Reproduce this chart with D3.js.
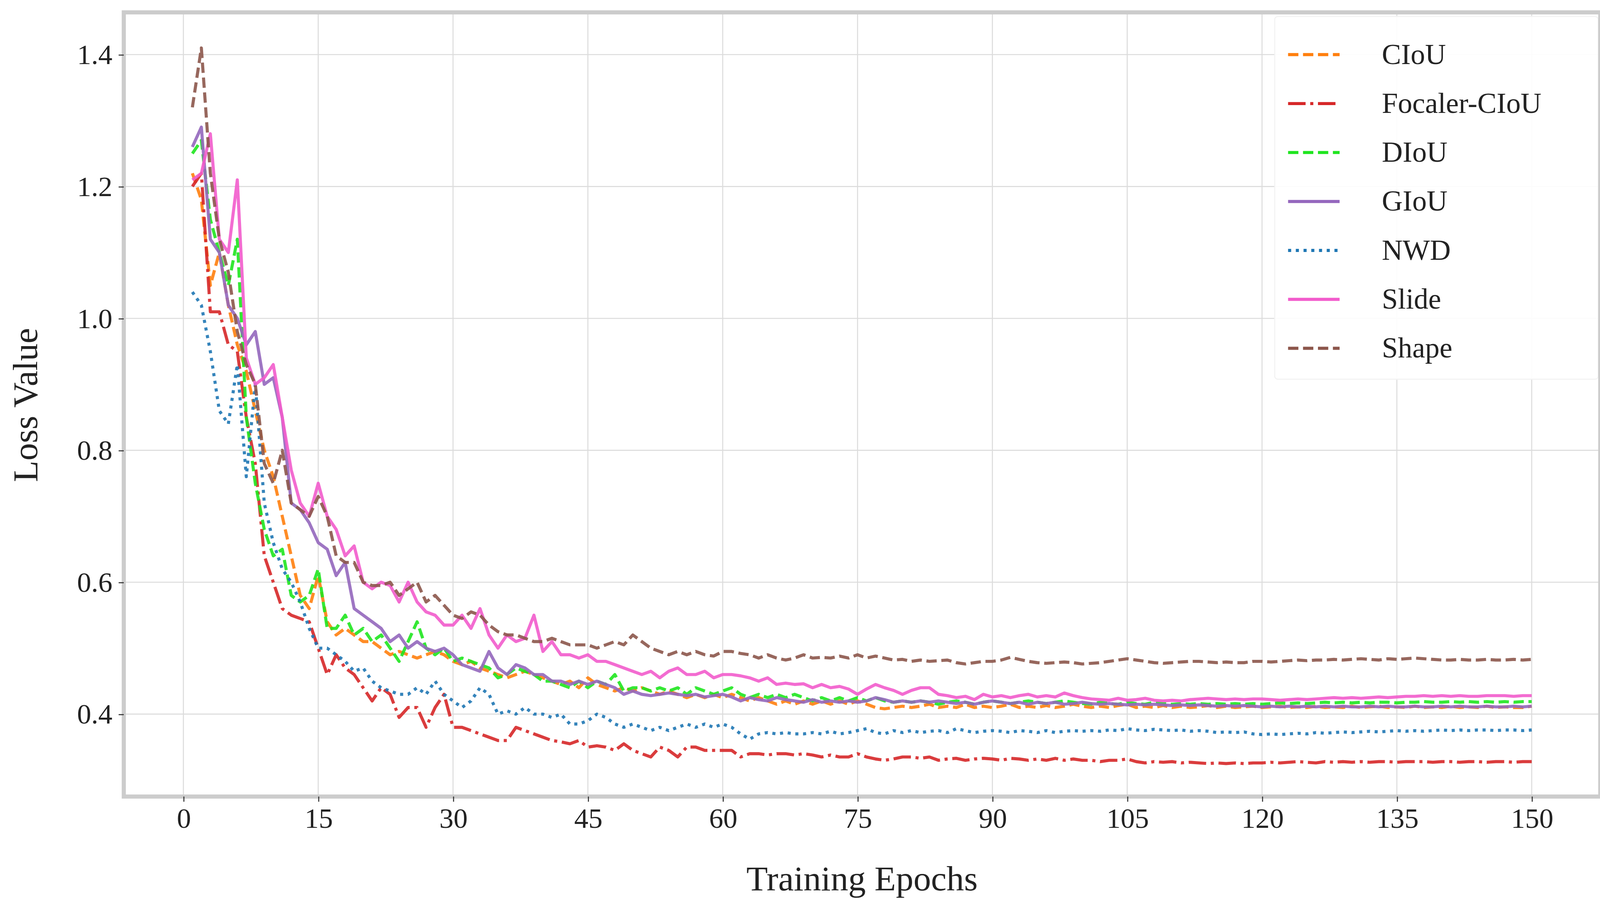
<!DOCTYPE html>
<html><head><meta charset="utf-8">
<script src="https://cdn.jsdelivr.net/npm/d3@7"></script>
<style>body{margin:0;background:#fff}</style></head>
<body><svg id="c"></svg>
<script>
const CIoU=[1.22,1.18,1.05,1.10,1.02,0.96,0.92,0.86,0.80,0.76,0.70,0.64,0.58,0.56,0.61,0.54,0.52,0.53,0.52,0.51,0.51,0.50,0.49,0.495,0.49,0.485,0.49,0.495,0.49,0.48,0.475,0.48,0.47,0.465,0.46,0.455,0.46,0.465,0.46,0.455,0.45,0.445,0.45,0.44,0.455,0.445,0.44,0.435,0.44,0.435,0.44,0.435,0.43,0.435,0.43,0.425,0.43,0.425,0.43,0.425,0.43,0.425,0.42,0.425,0.42,0.415,0.42,0.415,0.42,0.415,0.42,0.415,0.42,0.415,0.42,0.415,0.41,0.408,0.41,0.412,0.41,0.412,0.415,0.41,0.412,0.41,0.415,0.41,0.412,0.41,0.412,0.415,0.41,0.412,0.41,0.413,0.41,0.412,0.415,0.412,0.41,0.412,0.41,0.413,0.415,0.41,0.412,0.41,0.413,0.41,0.412,0.41,0.411,0.413,0.41,0.412,0.41,0.411,0.412,0.41,0.411,0.412,0.41,0.411,0.41,0.412,0.41,0.411,0.41,0.412,0.41,0.411,0.412,0.41,0.411,0.41,0.412,0.41,0.411,0.41,0.412,0.41,0.411,0.41,0.412,0.41,0.411,0.41,0.41,0.412];
const Focaler=[1.20,1.22,1.01,1.01,0.96,0.95,0.85,0.78,0.64,0.60,0.56,0.55,0.545,0.54,0.50,0.46,0.49,0.47,0.46,0.44,0.42,0.44,0.43,0.395,0.41,0.41,0.38,0.41,0.43,0.38,0.38,0.375,0.37,0.365,0.36,0.36,0.38,0.375,0.37,0.365,0.36,0.358,0.355,0.36,0.35,0.352,0.35,0.345,0.355,0.345,0.34,0.335,0.35,0.345,0.335,0.35,0.35,0.345,0.345,0.345,0.345,0.335,0.34,0.34,0.338,0.34,0.34,0.338,0.34,0.338,0.335,0.338,0.335,0.335,0.34,0.335,0.332,0.33,0.332,0.335,0.335,0.333,0.335,0.33,0.332,0.333,0.33,0.332,0.333,0.332,0.33,0.333,0.332,0.33,0.332,0.33,0.333,0.33,0.332,0.33,0.33,0.328,0.33,0.33,0.332,0.328,0.326,0.328,0.327,0.328,0.326,0.327,0.326,0.325,0.326,0.325,0.326,0.325,0.326,0.326,0.327,0.326,0.327,0.328,0.327,0.326,0.328,0.327,0.328,0.327,0.328,0.327,0.328,0.328,0.327,0.328,0.328,0.328,0.327,0.328,0.328,0.327,0.328,0.328,0.327,0.328,0.328,0.327,0.328,0.328];
const DIoU=[1.25,1.27,1.15,1.10,1.05,1.12,0.85,0.75,0.68,0.64,0.65,0.58,0.57,0.58,0.62,0.53,0.53,0.55,0.52,0.53,0.51,0.52,0.50,0.48,0.51,0.54,0.50,0.49,0.50,0.48,0.485,0.48,0.475,0.47,0.455,0.46,0.47,0.465,0.46,0.45,0.45,0.445,0.44,0.45,0.44,0.45,0.445,0.46,0.435,0.44,0.44,0.435,0.44,0.435,0.44,0.43,0.44,0.435,0.43,0.435,0.44,0.43,0.425,0.43,0.425,0.43,0.425,0.43,0.425,0.42,0.425,0.42,0.425,0.42,0.425,0.42,0.425,0.42,0.418,0.42,0.418,0.42,0.418,0.415,0.418,0.42,0.418,0.415,0.418,0.42,0.418,0.416,0.418,0.42,0.418,0.416,0.418,0.42,0.418,0.416,0.415,0.418,0.416,0.415,0.418,0.416,0.415,0.418,0.416,0.415,0.416,0.415,0.416,0.415,0.416,0.415,0.416,0.415,0.416,0.415,0.416,0.417,0.416,0.417,0.416,0.417,0.418,0.417,0.418,0.417,0.418,0.417,0.418,0.418,0.417,0.418,0.418,0.419,0.418,0.418,0.419,0.418,0.419,0.418,0.419,0.418,0.419,0.418,0.419,0.419];
const GIoU=[1.26,1.29,1.12,1.10,1.02,1.00,0.96,0.98,0.90,0.91,0.85,0.72,0.71,0.69,0.66,0.65,0.61,0.63,0.56,0.55,0.54,0.53,0.51,0.52,0.50,0.51,0.50,0.495,0.50,0.49,0.475,0.47,0.465,0.495,0.47,0.46,0.475,0.47,0.46,0.46,0.45,0.45,0.445,0.45,0.445,0.45,0.445,0.44,0.43,0.435,0.43,0.428,0.43,0.432,0.43,0.428,0.43,0.426,0.428,0.43,0.426,0.42,0.425,0.422,0.42,0.425,0.422,0.42,0.418,0.422,0.418,0.42,0.418,0.42,0.418,0.42,0.425,0.422,0.418,0.42,0.418,0.42,0.418,0.42,0.418,0.416,0.418,0.415,0.418,0.42,0.418,0.416,0.418,0.415,0.418,0.416,0.418,0.415,0.416,0.418,0.416,0.415,0.416,0.415,0.414,0.415,0.414,0.415,0.414,0.413,0.414,0.413,0.414,0.413,0.412,0.413,0.412,0.413,0.412,0.411,0.412,0.411,0.412,0.411,0.412,0.411,0.412,0.411,0.412,0.411,0.411,0.412,0.411,0.412,0.411,0.411,0.412,0.411,0.411,0.412,0.411,0.412,0.411,0.411,0.412,0.411,0.411,0.412,0.411,0.412];
const NWD=[1.04,1.02,0.95,0.86,0.84,0.93,0.76,0.90,0.72,0.66,0.62,0.60,0.57,0.53,0.50,0.50,0.49,0.48,0.465,0.47,0.45,0.44,0.435,0.43,0.43,0.44,0.43,0.45,0.43,0.42,0.41,0.42,0.44,0.43,0.40,0.405,0.40,0.41,0.40,0.40,0.395,0.40,0.385,0.385,0.39,0.40,0.395,0.385,0.38,0.385,0.38,0.375,0.38,0.375,0.38,0.385,0.38,0.385,0.38,0.385,0.38,0.37,0.362,0.37,0.372,0.37,0.372,0.37,0.37,0.372,0.37,0.374,0.37,0.372,0.375,0.378,0.372,0.37,0.375,0.372,0.375,0.372,0.374,0.375,0.372,0.378,0.375,0.372,0.374,0.375,0.374,0.372,0.375,0.374,0.372,0.375,0.372,0.374,0.375,0.374,0.375,0.374,0.376,0.375,0.378,0.376,0.375,0.377,0.376,0.375,0.376,0.374,0.375,0.374,0.372,0.373,0.372,0.373,0.37,0.369,0.37,0.369,0.37,0.371,0.37,0.372,0.371,0.372,0.373,0.372,0.373,0.374,0.373,0.374,0.375,0.374,0.375,0.374,0.375,0.376,0.375,0.376,0.375,0.376,0.376,0.375,0.376,0.376,0.375,0.376];
const Slide=[1.21,1.22,1.28,1.12,1.10,1.21,0.94,0.90,0.91,0.93,0.85,0.77,0.72,0.70,0.75,0.70,0.68,0.64,0.655,0.60,0.59,0.60,0.595,0.57,0.60,0.57,0.555,0.55,0.535,0.535,0.55,0.53,0.56,0.52,0.50,0.52,0.51,0.515,0.55,0.495,0.51,0.49,0.49,0.485,0.49,0.48,0.48,0.475,0.47,0.465,0.46,0.465,0.455,0.465,0.47,0.46,0.46,0.465,0.455,0.46,0.46,0.458,0.455,0.45,0.455,0.445,0.447,0.445,0.446,0.44,0.445,0.44,0.442,0.438,0.43,0.438,0.445,0.44,0.436,0.43,0.436,0.44,0.44,0.43,0.428,0.425,0.427,0.422,0.43,0.426,0.428,0.425,0.428,0.43,0.426,0.428,0.426,0.432,0.428,0.425,0.423,0.422,0.421,0.424,0.421,0.422,0.424,0.421,0.42,0.421,0.42,0.422,0.423,0.424,0.423,0.422,0.423,0.422,0.423,0.423,0.422,0.421,0.422,0.423,0.422,0.423,0.424,0.425,0.424,0.425,0.424,0.425,0.426,0.425,0.426,0.427,0.427,0.428,0.427,0.428,0.427,0.428,0.427,0.427,0.428,0.428,0.428,0.427,0.428,0.428];
const Shape=[1.32,1.41,1.22,1.12,1.07,0.98,0.93,0.90,0.78,0.75,0.80,0.72,0.71,0.70,0.73,0.70,0.64,0.63,0.63,0.60,0.595,0.595,0.60,0.58,0.59,0.60,0.57,0.58,0.565,0.55,0.545,0.555,0.55,0.535,0.525,0.52,0.52,0.515,0.51,0.51,0.515,0.51,0.505,0.505,0.505,0.50,0.505,0.51,0.505,0.52,0.51,0.50,0.495,0.49,0.495,0.49,0.495,0.49,0.488,0.495,0.495,0.492,0.49,0.485,0.49,0.485,0.482,0.485,0.49,0.485,0.486,0.485,0.488,0.485,0.49,0.485,0.488,0.485,0.482,0.483,0.48,0.482,0.48,0.481,0.482,0.478,0.476,0.478,0.48,0.48,0.482,0.486,0.483,0.48,0.478,0.477,0.478,0.479,0.478,0.476,0.477,0.478,0.48,0.482,0.484,0.482,0.48,0.478,0.477,0.478,0.479,0.48,0.48,0.479,0.478,0.479,0.478,0.478,0.48,0.48,0.479,0.48,0.481,0.482,0.481,0.482,0.482,0.483,0.482,0.483,0.484,0.483,0.482,0.484,0.483,0.484,0.485,0.484,0.483,0.482,0.482,0.483,0.482,0.482,0.483,0.482,0.482,0.483,0.482,0.483];
const seriesNames=["CIoU","Focaler-CIoU","DIoU","GIoU","NWD","Slide","Shape"];
const seriesData=[CIoU,Focaler,DIoU,GIoU,NWD,Slide,Shape];
const xTicks=[0,15,30,45,60,75,90,105,120,135,150];
const yTicks=[0.4,0.6,0.8,1.0,1.2,1.4];

const colors=["#ff7f0e","#d62728","#1fe51f","#9467bd","#1f77b4","#f25ccc","#8c564b"];
const dashes=["10,4.5","17,4.5,3,4.5","10,4.5",null,"3,4.5",null,"10,4.5"];

const W=1567,H=886;
const svg=d3.select("#c").attr("width",4134).attr("height",2337).attr("viewBox",`0 0 ${W} ${H}`);
const L=120,R=1553,T=12,B=773;
const x=d3.scaleLinear().domain([-6.63,157.63]).range([L,R]);
const y=d3.scaleLinear().domain([0.275,1.464]).range([B,T]);
const font="'Liberation Serif','Times New Roman',serif";

const g=svg.append("g");
g.selectAll(".gx").data(xTicks).join("line").attr("x1",d=>x(d)).attr("x2",d=>x(d)).attr("y1",T).attr("y2",B).attr("stroke","#dcdcdc").attr("stroke-width",1);
g.selectAll(".gy").data(yTicks).join("line").attr("y1",d=>y(d)).attr("y2",d=>y(d)).attr("x1",L).attr("x2",R).attr("stroke","#dcdcdc").attr("stroke-width",1);

const line=d3.line().x((d,i)=>x(i+1)).y(d=>y(d));
seriesData.forEach((s,k)=>{
  svg.append("path").datum(s).attr("d",line).attr("fill","none").attr("stroke",colors[k]).attr("stroke-opacity",0.9)
   .attr("stroke-width",3).attr("stroke-dasharray",dashes[k]).attr("stroke-linejoin","round");
});

// legend
const lg=svg.append("g");
lg.append("rect").attr("x",1237).attr("y",16).attr("width",314).attr("height",352).attr("fill","#fff").attr("fill-opacity",0.9).attr("stroke","#f2f2f2").attr("rx",3);
seriesNames.forEach((n,k)=>{
  const yy=53+k*47.5;
  lg.append("line").attr("x1",1250).attr("x2",1300).attr("y1",yy).attr("y2",yy).attr("stroke",colors[k]).attr("stroke-width",3).attr("stroke-dasharray",dashes[k]);
  lg.append("text").attr("x",1341).attr("y",yy+9).attr("font-family",font).attr("font-size",28).attr("fill","#222").text(n);
});

svg.append("rect").attr("x",L).attr("y",T).attr("width",R-L).attr("height",B-T).attr("fill","none").attr("stroke","#cccccc").attr("stroke-width",4);

const xa=svg.append("g").attr("transform",`translate(0,${B})`).call(d3.axisBottom(x).tickValues(xTicks).tickSize(5).tickPadding(6).tickFormat(d3.format("d")));
const ya=svg.append("g").attr("transform",`translate(${L},0)`).call(d3.axisLeft(y).tickValues(yTicks).tickSize(5).tickPadding(6).tickFormat(d3.format(".1f")));
[xa,ya].forEach(a=>{a.select(".domain").remove();a.selectAll("line").attr("stroke","#333");a.selectAll("text").attr("font-family",font).attr("font-size",27.5).attr("fill","#222");});

svg.append("text").attr("x",(L+R)/2).attr("y",864).attr("text-anchor","middle").attr("font-family",font).attr("font-size",34).attr("fill","#222").text("Training Epochs");
svg.append("text").attr("transform",`translate(36,393) rotate(-90)`).attr("text-anchor","middle").attr("font-family",font).attr("font-size",34).attr("fill","#222").text("Loss Value");
</script></body></html>
